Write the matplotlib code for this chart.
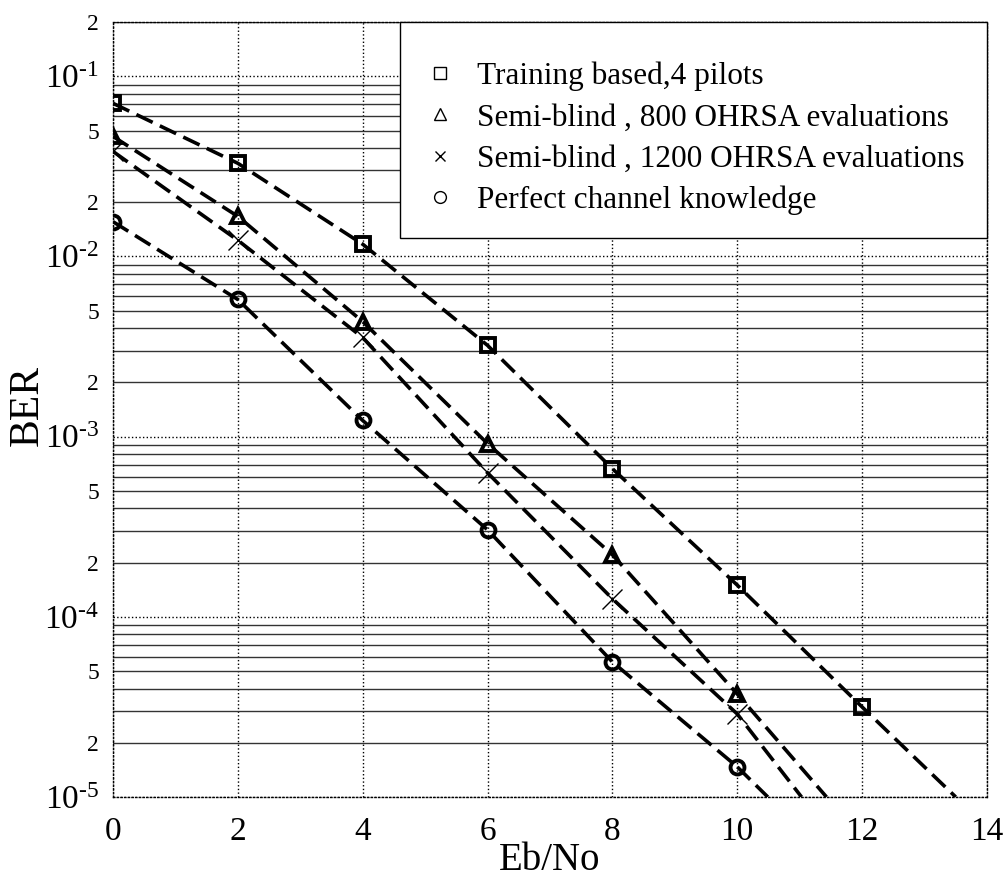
import numpy as np
import matplotlib
matplotlib.use("Agg")
import matplotlib.pyplot as plt
from matplotlib.lines import Line2D
from matplotlib.ticker import LogLocator, FuncFormatter

plt.rcParams["font.family"] = ["Liberation Serif", "DejaVu Serif"]
plt.rcParams["mathtext.fontset"] = "custom"
plt.rcParams["mathtext.rm"] = "Liberation Serif"
plt.rcParams["mathtext.it"] = "Liberation Serif:italic"
plt.rcParams["mathtext.bf"] = "Liberation Serif:bold"

# Eb/No points (dB)
snr = [0, 2, 4, 6, 8, 10, 12]
snr_short = [0, 2, 4, 6, 8, 10]

# BER
ber_training = [0.0708, 0.0329, 0.0117, 0.00321, 6.64e-4, 1.5e-4, 3.16e-5]
ber_sb800 = [0.0464, 0.0167, 0.00435, 9.15e-4, 2.21e-4, 3.73e-5]
ber_sb1200 = [0.0383, 0.0123, 0.00355, 6.3e-4, 1.26e-4, 2.89e-5]
ber_perfect = [0.0156, 0.00577, 0.00123, 3.04e-4, 5.62e-5, 1.47e-5]

# where each dashed curve leaves the plot at BER = 1e-5
end_x = {"training": 13.5, "sb800": 11.43, "sb1200": 11.03, "perfect": 10.49}
end_y = 1e-5

labels = ["Training based,4 pilots",
          "Semi-blind , 800 OHRSA evaluations",
          "Semi-blind , 1200 OHRSA evaluations",
          "Perfect channel knowledge"]

fig = plt.figure(figsize=(10.04, 8.82), dpi=100)
ax = fig.add_axes([0.1125, 0.0964, 0.8705, 0.8786])

series = [
    (snr, ber_training, "s", "training"),
    (snr_short, ber_sb800, "^", "sb800"),
    (snr_short, ber_sb1200, "x", "sb1200"),
    (snr_short, ber_perfect, "o", "perfect"),
]
for xs, ys, mk, key in series:
    ax.plot(list(xs) + [end_x[key]], list(ys) + [end_y], color="black",
            linestyle=(0, (5, 2.2)), linewidth=2.6)
    if mk == "x":
        ax.plot(xs, ys, linestyle="none", marker="x", markersize=14,
                markeredgewidth=1.0, color="black")
    else:
        ax.plot(xs, ys, linestyle="none", marker=mk, markersize=10,
                markerfacecolor="none", markeredgewidth=2.8,
                markeredgecolor="black")

ax.set_yscale("log")
ax.set_xlim(0, 14)
ax.set_ylim(1e-5, 2e-1)
ax.set_xticks(range(0, 15, 2))

ax.yaxis.set_major_locator(LogLocator(base=10, numticks=10))
ax.yaxis.set_minor_locator(LogLocator(base=10, subs=np.arange(2, 10), numticks=20))


def major_fmt(v, pos):
    e = int(round(np.log10(v)))
    return r"$10^{\text{-}%d}$" % abs(e)


def minor_fmt(v, pos):
    m = int(round(v / 10 ** np.floor(np.log10(v) + 1e-9)))
    return str(m) if m in (2, 5) else ""


ax.yaxis.set_major_formatter(FuncFormatter(major_fmt))
ax.yaxis.set_minor_formatter(FuncFormatter(minor_fmt))

ax.tick_params(axis="both", which="both", length=0)
ax.tick_params(axis="x", labelsize=24, pad=14)
ax.tick_params(axis="y", which="major", labelsize=24, pad=10)
ax.tick_params(axis="y", which="minor", labelsize=17, pad=10)

ax.grid(True, which="major", axis="both", color="black", linestyle=":", linewidth=1.0)
ax.grid(True, which="minor", axis="y", color="#333333", linestyle="-", linewidth=1.0)
for sp in ax.spines.values():
    sp.set_linestyle(":")
    sp.set_linewidth(1.0)

ax.set_xlabel("Eb/No", fontsize=28)
ax.xaxis.set_label_coords(0.5, -0.058)
ax.set_ylabel("BER", fontsize=30)
ax.yaxis.set_label_coords(-0.0755, 0.505)

handles = [
    Line2D([], [], linestyle="none", marker="s", markersize=8.5, markerfacecolor="none",
           markeredgecolor="black", markeredgewidth=1.0),
    Line2D([], [], linestyle="none", marker="^", markersize=8.5, markerfacecolor="none",
           markeredgecolor="black", markeredgewidth=1.0),
    Line2D([], [], linestyle="none", marker="x", markersize=7.5, color="black",
           markeredgewidth=1.0),
    Line2D([], [], linestyle="none", marker="o", markersize=8.5, markerfacecolor="none",
           markeredgecolor="black", markeredgewidth=1.0),
]
leg = ax.legend(handles, labels, loc="upper right", bbox_to_anchor=(1.0, 1.0),
                borderaxespad=0, fontsize=22.5, frameon=True, fancybox=False,
                framealpha=1, edgecolor="black", handlelength=1.09,
                handletextpad=0.64, labelspacing=0.39, borderpad=0.72,
                title=" ", title_fontsize=4)
leg.get_frame().set_linewidth(1.0)

fig.savefig("out.png", dpi=100)
